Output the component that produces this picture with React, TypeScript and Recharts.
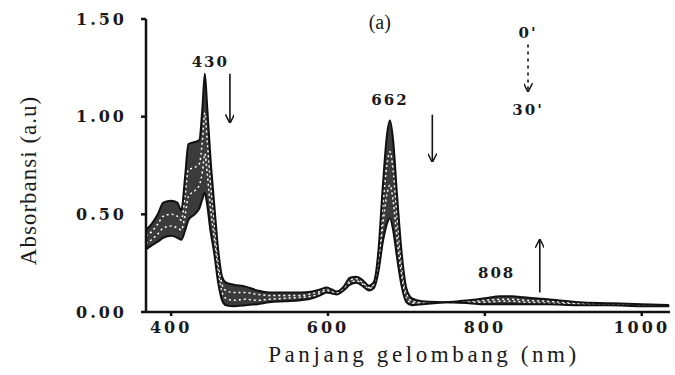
import {
  Area,
  ComposedChart,
  Line,
  ReferenceDot,
  ReferenceLine,
  XAxis,
  YAxis,
} from "recharts";

// wavelength (nm) and absorbance, 0' to 30'
const wavelength = [
  368, 375, 383, 390, 400, 408, 413, 418, 422, 430, 436, 440, 443, 446, 450,
  455, 460, 465, 470, 480, 495, 510, 525, 545, 565, 580, 590, 598, 605, 611,
  620, 628, 636, 645, 652, 658, 664, 670, 675, 679, 683, 688, 694, 700, 707,
  720, 750, 780, 800, 820, 835, 850, 880, 920, 960, 1000, 1035,
];
const abs0 = [
  0.42, 0.45, 0.5, 0.56, 0.57, 0.56, 0.52, 0.7, 0.86, 0.87, 0.88, 1.05, 1.22,
  1.05, 0.8, 0.55, 0.32, 0.18, 0.15, 0.14, 0.13, 0.11, 0.1, 0.1, 0.1, 0.105,
  0.115, 0.125, 0.115, 0.105, 0.13, 0.175, 0.18, 0.16, 0.135, 0.15, 0.3, 0.65,
  0.9, 0.98, 0.88, 0.6, 0.3, 0.12, 0.07, 0.055, 0.05, 0.045, 0.04, 0.04, 0.04,
  0.04, 0.04, 0.035, 0.035, 0.03, 0.03,
];
const abs10 = [
  0.39, 0.41, 0.45, 0.49, 0.5, 0.49, 0.47, 0.6, 0.73, 0.74, 0.76, 0.88, 1.02,
  0.88, 0.67, 0.46, 0.26, 0.14, 0.11, 0.1, 0.1, 0.09, 0.085, 0.085, 0.085,
  0.095, 0.105, 0.12, 0.11, 0.1, 0.125, 0.165, 0.17, 0.15, 0.125, 0.14, 0.27,
  0.55, 0.75, 0.82, 0.73, 0.49, 0.24, 0.1, 0.055, 0.05, 0.05, 0.05, 0.05,
  0.055, 0.055, 0.05, 0.045, 0.04, 0.035, 0.035, 0.03,
];
const abs20 = [
  0.35, 0.37, 0.4, 0.43, 0.44, 0.43, 0.42, 0.5, 0.59, 0.62, 0.65, 0.72, 0.81,
  0.71, 0.54, 0.38, 0.2, 0.1, 0.07, 0.06, 0.065, 0.06, 0.065, 0.07, 0.075,
  0.08, 0.095, 0.11, 0.1, 0.095, 0.115, 0.15, 0.16, 0.14, 0.12, 0.13, 0.23,
  0.45, 0.6, 0.65, 0.57, 0.38, 0.18, 0.07, 0.045, 0.045, 0.05, 0.055, 0.06,
  0.065, 0.065, 0.06, 0.055, 0.045, 0.04, 0.035, 0.03,
];
const abs30 = [
  0.32, 0.34, 0.36, 0.38, 0.39, 0.38, 0.37, 0.42, 0.47, 0.5, 0.53, 0.58, 0.61,
  0.55, 0.42, 0.3, 0.15, 0.06, 0.035, 0.03, 0.035, 0.04, 0.05, 0.055, 0.06,
  0.07, 0.085, 0.1, 0.095, 0.09, 0.11, 0.14, 0.15, 0.13, 0.11, 0.12, 0.2,
  0.36, 0.45, 0.48, 0.42, 0.28, 0.13, 0.05, 0.035, 0.04, 0.05, 0.06, 0.07,
  0.08, 0.08, 0.075, 0.065, 0.05, 0.045, 0.04, 0.035,
];

const xTicks = [400, 600, 800, 1000];
const yTicks = [0, 0.5, 1, 1.5];

const data = wavelength.map((nm, i) => {
  const vals = [abs0[i], abs10[i], abs20[i], abs30[i]];
  return {
    nm,
    t0: abs0[i],
    t10: abs10[i],
    t20: abs20[i],
    t30: abs30[i],
    band: [Math.min(...vals), Math.max(...vals)],
  };
});

const tickFont = {
  fontFamily: "DejaVu Serif",
  fontWeight: 700,
  fontSize: 16,
  letterSpacing: 3,
  fill: "#1a1a1a",
};

const annFont = {
  fontFamily: "DejaVu Serif",
  fontWeight: 700,
  fontSize: 15,
  letterSpacing: 2,
  fill: "#1a1a1a",
};

function YTitle({ viewBox }: any) {
  const cx = 28;
  const cy = viewBox.y + viewBox.height / 2 + 15;
  return (
    <text
      x={cx}
      y={cy}
      transform={`rotate(-90, ${cx}, ${cy})`}
      textAnchor="middle"
      dominantBaseline="central"
      fontFamily="Liberation Serif"
      fontSize={23}
      letterSpacing={1}
      fill="#1a1a1a"
    >
      Absorbansi (a.u)
    </text>
  );
}

export default function App() {
  return (
    <div style={{ position: "absolute", left: 0, top: 0, background: "#fff" }}>
      <ComposedChart
        width={675}
        height={375}
        data={data}
        margin={{ top: 19, right: 5, bottom: 3, left: 0 }}
      >
        <defs>
          <marker
            id="arrowHead"
            viewBox="0 0 10 10"
            refX="9"
            refY="5"
            markerWidth="9"
            markerHeight="9"
            orient="auto"
            markerUnits="userSpaceOnUse"
          >
            <path d="M0,0 L10,5 L0,10" fill="none" stroke="#111" strokeWidth={1.6} />
          </marker>
        </defs>
        <XAxis
          dataKey="nm"
          type="number"
          domain={[368, 1036]}
          ticks={xTicks}
          height={60}
          stroke="#111"
          strokeWidth={2.5}
          tickSize={4}
          tickMargin={6}
          tick={tickFont}
          label={{
            value: "Panjang gelombang (nm)",
            position: "insideBottom",
            offset: 10,
            dx: 16,
            fontFamily: "Liberation Serif",
            fontSize: 23,
            letterSpacing: 3.6,
            fill: "#1a1a1a",
          }}
        />
        <YAxis
          type="number"
          domain={[0, 1.5]}
          ticks={yTicks}
          width={146}
          stroke="#111"
          strokeWidth={2.5}
          tickSize={5}
          tickMargin={14}
          tick={tickFont}
          tickFormatter={(v: number) => v.toFixed(2)}
          label={<YTitle />}
        />
        <Area
          dataKey="band"
          type="monotone"
          stroke="none"
          fill="#2a2a2a"
          fillOpacity={0.92}
          isAnimationActive={false}
        />
        <Line dataKey="t10" type="monotone" stroke="#fff" strokeWidth={1.5} strokeDasharray="2 3" dot={false} isAnimationActive={false} />
        <Line dataKey="t20" type="monotone" stroke="#fff" strokeWidth={1.5} strokeDasharray="2 3" dot={false} isAnimationActive={false} />
        <Line dataKey="t0" type="monotone" stroke="#111" strokeWidth={2} dot={false} isAnimationActive={false} />
        <Line dataKey="t30" type="monotone" stroke="#111" strokeWidth={2} dot={false} isAnimationActive={false} />

        <ReferenceDot x={450} y={1.28} r={0} fill="none" stroke="none" label={{ value: "430", position: "center", ...annFont }} />
        <ReferenceLine segment={[{ x: 475, y: 1.22 }, { x: 475, y: 0.97 }]} stroke="#111" strokeWidth={1.6} markerEnd="url(#arrowHead)" />
        <ReferenceDot x={679} y={1.085} r={0} fill="none" stroke="none" label={{ value: "662", position: "center", ...annFont }} />
        <ReferenceLine segment={[{ x: 733, y: 1.01 }, { x: 733, y: 0.77 }]} stroke="#111" strokeWidth={1.6} markerEnd="url(#arrowHead)" />
        <ReferenceDot
          x={666}
          y={1.485}
          r={0}
          fill="none"
          stroke="none"
          label={{ value: "(a)", position: "center", fontFamily: "Liberation Serif", fontSize: 20, fill: "#1a1a1a" }}
        />
        <ReferenceDot x={855} y={1.43} r={0} fill="none" stroke="none" label={{ value: "0'", position: "center", ...annFont }} />
        <ReferenceLine segment={[{ x: 855, y: 1.37 }, { x: 855, y: 1.13 }]} stroke="#111" strokeWidth={1.6} strokeDasharray="3 4" markerEnd="url(#arrowHead)" />
        <ReferenceDot x={855} y={1.035} r={0} fill="none" stroke="none" label={{ value: "30'", position: "center", ...annFont }} />
        <ReferenceDot x={815} y={0.2} r={0} fill="none" stroke="none" label={{ value: "808", position: "center", ...annFont }} />
        <ReferenceLine segment={[{ x: 870, y: 0.1 }, { x: 870, y: 0.37 }]} stroke="#111" strokeWidth={1.6} markerEnd="url(#arrowHead)" />
      </ComposedChart>
    </div>
  );
}
